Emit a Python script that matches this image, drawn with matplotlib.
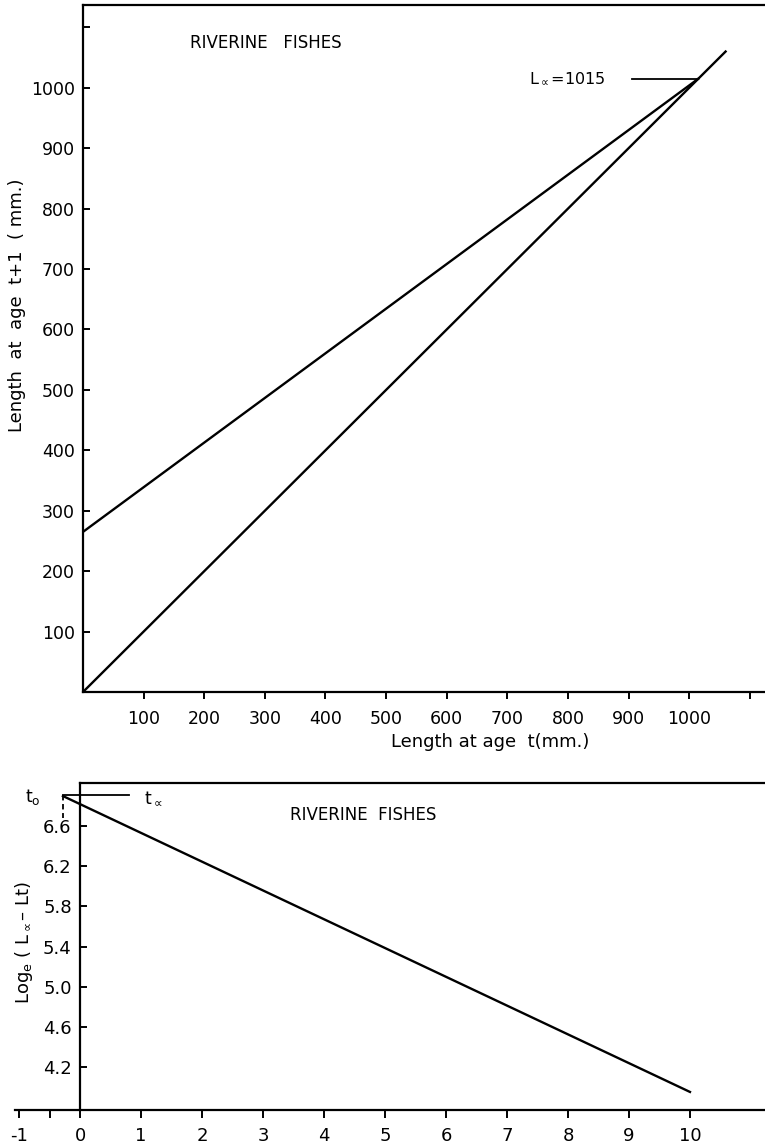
"""Walford plot and log-decline plot for riverine fishes (scanned-figure redraw)."""
import matplotlib
matplotlib.use("Agg")
import matplotlib.pyplot as plt

# ---- data -----------------------------------------------------------------
# top: Walford line L(t+1) vs L(t), plus the 45-degree line
walford_x = [0, 1015]
walford_y = [265, 1015]
diag_x = [0, 1060]
diag_y = [0, 1060]
L_inf = 1015
top_xticks = [100, 200, 300, 400, 500, 600, 700, 800, 900, 1000, 1100]
top_xlabels = ["100", "200", "300", "400", "500", "600", "700", "800", "900", "1000", ""]
top_yticks = [100, 200, 300, 400, 500, 600, 700, 800, 900, 1000, 1100]
top_ylabels = ["100", "200", "300", "400", "500", "600", "700", "800", "900", "1000", ""]

# bottom: log_e(L_inf - L_t) against age t
age = [-0.28, 10.0]
log_diff = [6.90, 3.95]
t0 = -0.28
bot_xticks = [-1, -0.5, 0, 1, 2, 3, 4, 5, 6, 7, 8, 9, 10]
bot_xlabels = ["-1", "", "0", "1", "2", "3", "4", "5", "6", "7", "8", "9", "10"]
bot_yticks = [4.2, 4.6, 5.0, 5.4, 5.8, 6.2, 6.6]
bot_ylabels = ["4.2", "4.6", "5.0", "5.4", "5.8", "6.2", "6.6"]

plt.rcParams.update({"font.family": "DejaVu Sans", "font.size": 12,
                     "axes.linewidth": 1.6, "mathtext.default": "regular"})
W, H = 765, 1148
fig = plt.figure(figsize=(W / 100, H / 100), dpi=100)
LW = 1.7

# ---- top panel --------------------------------------------------------------
ax = fig.add_axes([83 / W, 1 - 692 / H, 1 - 83 / W, (692 - 5) / H])
ax.plot(walford_x, walford_y, color="black", lw=LW)
ax.plot(diag_x, diag_y, color="black", lw=LW)
ax.set_xlim(0, 1125); ax.set_ylim(0, 1137)
ax.spines["right"].set_visible(False)
ax.set_xticks(top_xticks, top_xlabels)
ax.set_yticks(top_yticks, top_ylabels)
ax.tick_params(axis="x", direction="out", length=5, width=1.4, pad=8,
               labelsize=12.5)
ax.tick_params(axis="y", direction="in", length=5, width=1.4, pad=6,
               labelsize=12.5)
ax.plot([905, L_inf], [L_inf, L_inf], color="black", lw=1.3)
ax.text(735, L_inf, r"L$_{\propto}$=1015", ha="left", va="center", fontsize=11.5)
ax.text(177, 1074, "RIVERINE   FISHES", ha="left", va="center", fontsize=12)
fig.text(490 / W, 1 - 742 / H, "Length at age  t(mm.)", ha="center",
         va="center", fontsize=13)
fig.text(17 / W, 1 - 305 / H, "Length  at  age  t+1  ( mm.)", rotation=90,
         ha="center", va="center", fontsize=13)

# ---- bottom panel -----------------------------------------------------------
bx = fig.add_axes([15 / W, 1 - 1110 / H, 750 / W, (1110 - 783) / H])
bx.plot(age, log_diff, color="black", lw=LW)
bx.set_xlim(-1.066, 11.23); bx.set_ylim(3.77, 7.03)
bx.spines["right"].set_visible(False)
bx.spines["top"].set_visible(False)
bx.spines["left"].set_position(("data", 0))
bx.plot([0, 11.23], [7.03, 7.03], color="black", lw=1.6, clip_on=False)
bx.set_xticks(bot_xticks, bot_xlabels)
bx.set_yticks(bot_yticks, bot_ylabels)
bx.tick_params(axis="x", direction="out", length=6, width=1.4, pad=6,
               labelsize=13)
bx.tick_params(axis="y", direction="in", length=5, width=1.4, pad=6,
               labelsize=13)
# t0 / t-infinity marker
bx.plot([t0, 0.8], [6.91, 6.91], color="black", lw=1.3)
bx.plot([t0, t0], [6.91, 6.68], color="black", lw=1.3, ls=(0, (3, 2)))
bx.text(-0.78, 6.89, r"t$_{o}$", ha="center", va="center", fontsize=12.5)
bx.text(1.2, 6.88, r"t$_{\propto}$", ha="center", va="center", fontsize=12.5)
bx.text(3.44, 6.71, "RIVERINE  FISHES", ha="left", va="center", fontsize=12)
fig.text(24 / W, 1 - 942 / H, r"Log$_{e}$ ( L$_{\propto}$– Lt)", rotation=90,
         ha="center", va="center", fontsize=13)

fig.savefig("out.png", dpi=100)
